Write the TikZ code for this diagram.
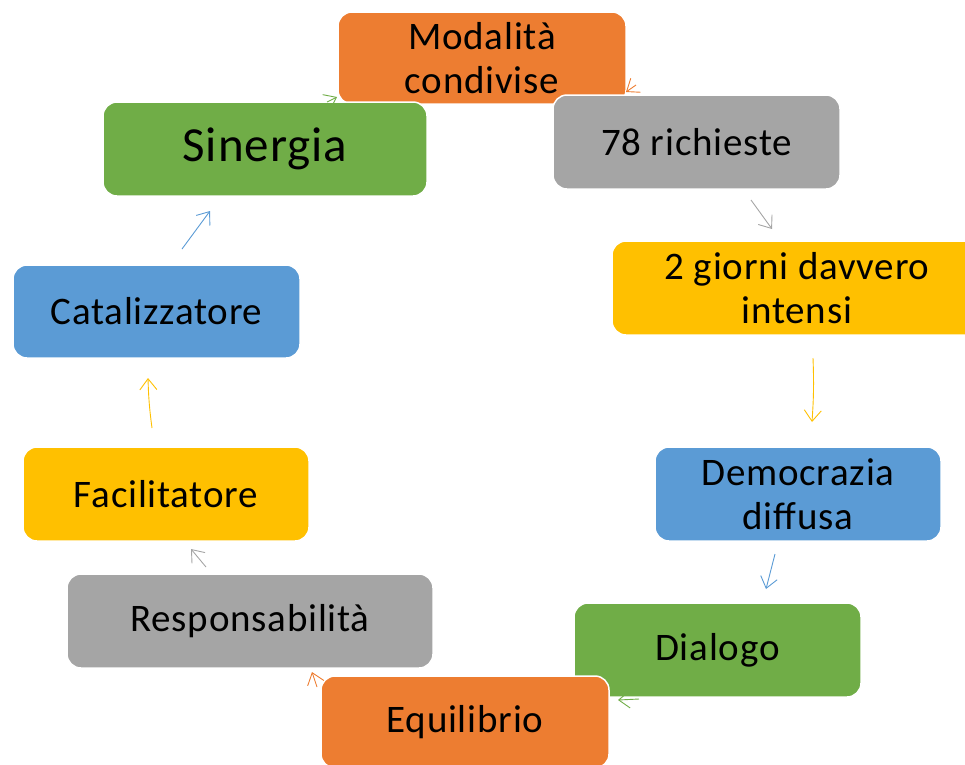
\documentclass[tikz,border=0pt]{standalone}
\usepackage{fontspec}
\setmainfont{Carlito}[LetterSpace=2]
\usetikzlibrary{arrows.meta}
\definecolor{cOrange}{HTML}{ED7D31}
\definecolor{cGray}{HTML}{A5A5A5}
\definecolor{cGold}{HTML}{FFC000}
\definecolor{cBlue}{HTML}{5B9BD5}
\definecolor{cGreen}{HTML}{70AD47}
\tikzset{
  box/.style={rectangle, rounded corners=14pt, draw=white, line width=1.5pt,
    inner sep=0pt, align=center, text=black, minimum height=94pt,
    font=\fontsize{39}{44}\selectfont},
  conn/.style={line width=0.9pt, -{Straight Barb[length=11pt,width=17pt]}}
}
\begin{document}
\begin{tikzpicture}[x=1pt,y=-1pt]
\useasboundingbox (0,0) rectangle (965,764);
\node[box, fill=cOrange, minimum width=288pt, minimum height=92pt] (mod) at (482,58) {Modalità\\condivise};
\node[box, fill=cGray, minimum width=287pt] (ric) at (696.5,142) {78 richieste};
\node[box, fill=cGold, minimum width=370pt] (gio) at (797,288) {2 giorni davvero\\intensi};
\node[box, fill=cBlue, minimum width=286pt] (dem) at (798,494) {Democrazia\\diffusa};
\node[box, fill=cGreen, minimum width=287pt] (dia) at (717.5,650) {Dialogo};
\node[box, fill=cOrange, minimum width=288pt, minimum height=92pt] (equ) at (465,722) {Equilibrio};
\node[box, fill=cGray, minimum width=366pt] (res) at (250,621) {Responsabilità};
\node[box, fill=cGold, minimum width=286pt] (fac) at (166,494) {Facilitatore};
\node[box, fill=cBlue, minimum width=287pt, minimum height=93pt] (cat) at (156.5,311.5) {Catalizzatore};
\node[box, fill=cGreen, minimum width=324pt, font=\fontsize{49}{54}\selectfont] (sin) at (265,149) {Sinergia};
% arrow end points
\coordinate (a1s) at (636,85); \coordinate (a1e) at (626,92);
\coordinate (a2s) at (327,102); \coordinate (a2e) at (337,97);
\coordinate (a3s) at (751,200); \coordinate (a3e) at (772,229);
\coordinate (a4s) at (813,358); \coordinate (a4e) at (812,422);
\coordinate (a5s) at (775,554); \coordinate (a5e) at (766,589);
\coordinate (a6s) at (639,699); \coordinate (a6e) at (618,700);
\coordinate (a7s) at (317,687); \coordinate (a7e) at (312,672);
\coordinate (a8s) at (206,567); \coordinate (a8e) at (191,549);
\coordinate (a9s) at (152,428); \coordinate (a9e) at (148,378);
\coordinate (a10s) at (182,249); \coordinate (a10e) at (210,211);
\draw[conn, cOrange] (a1s) -- (a1e);
\draw[conn, cGreen] (a2s) -- (a2e);
\draw[conn, cGray] (a3s) -- (a3e);
\draw[conn, cGold] (a4s) to[bend left=3] (a4e);
\draw[conn, cBlue] (a5s) -- (a5e);
\draw[conn, cGreen] (a6s) -- (a6e);
\draw[conn, cOrange] (a7s) -- (a7e);
\draw[conn, cGray] (a8s) -- (a8e);
\draw[conn, cGold] (a9s) to[bend left=3] (a9e);
\draw[conn, cBlue] (a10s) -- (a10e);
\end{tikzpicture}
\end{document}
